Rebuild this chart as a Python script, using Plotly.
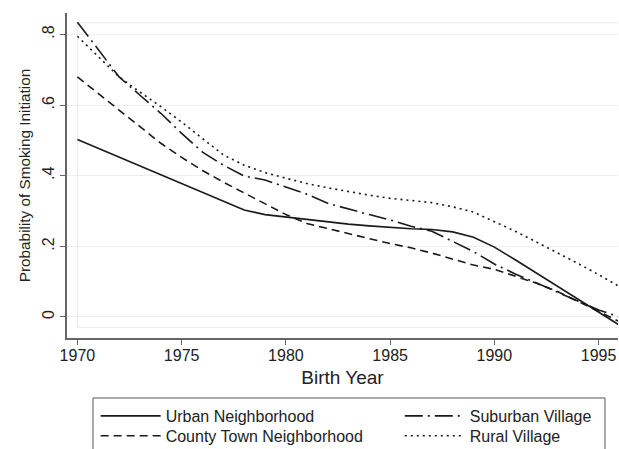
import plotly.graph_objects as go

years = list(range(1970, 1997))
urban = [.503, .478, .452, .427, .402, .378, .352, .328, .303, .290, .283, .276, .269, .263,
         .258, .253, .250, .248, .241, .226, .198, .162, .125, .088, .052, .015, -.023]
suburban = [.835, .757, .680, .628, .577, .520, .467, .430, .399, .388, .368, .348, .322, .305,
            .290, .275, .257, .243, .215, .185, .150, .122, .097, .070, .045, .020, .000]
county = [.680, .633, .586, .539, .492, .452, .415, .382, .351, .320, .290, .265, .250, .235,
          .222, .208, .196, .181, .164, .147, .135, .116, .096, .073, .045, .015, -.013]
rural = [.795, .737, .680, .637, .596, .552, .505, .459, .430, .409, .393, .378, .366, .355,
         .345, .336, .330, .324, .312, .297, .270, .243, .213, .183, .152, .120, .086]

names = ["Urban Neighborhood", "County Town Neighborhood", "Suburban Village", "Rural Village"]
series = [urban, county, suburban, rural]
dashes = ["solid", "8px,5px", "18px,5px,2px,5px", "2px,4px"]
legend_ids = ["legend", "legend2", "legend3", "legend4"]

x_ticks = [1970, 1975, 1980, 1985, 1990, 1995]
y_ticks = [0, 0.2, 0.4, 0.6, 0.8]
y_tick_labels = ["0", ".2", ".4", ".6", ".8"]

fig = go.Figure()
for nm, ys, dsh, lg in zip(names, series, dashes, legend_ids):
    fig.add_trace(go.Scatter(x=years, y=ys, mode="lines", name=nm, legend=lg,
                             line=dict(color="#1a1a1a", width=1.6, dash=dsh)))

# faint inner plot-region frame (Stata style)
fig.add_shape(type="rect", xref="x", yref="y", x0=1970, x1=1996, y0=-0.03, y1=0.833,
              line=dict(color="#ececec", width=1), layer="below")
# legend frame enclosing the legend entries
fig.add_shape(type="rect", xref="paper", yref="paper", x0=0.0472, x1=0.9764,
              y0=-0.1846, y1=-0.45, line=dict(color="#555", width=1))

font = "Liberation Sans, Arial, sans-serif"
leg_common = dict(orientation="v", xanchor="left", yanchor="top", borderwidth=0,
                  itemwidth=60, font=dict(size=16, color="#222"), bgcolor="rgba(0,0,0,0)")
col_x = [0.052, 0.052, 0.604, 0.604]
row_y = [-0.1877, -0.249, -0.1877, -0.249]
legend_layout = {lg: dict(x=cx, y=ry, **leg_common)
                 for lg, cx, ry in zip(legend_ids, col_x, row_y)}

fig.update_layout(
    width=619, height=449,
    margin=dict(l=67, r=1, t=13, b=111, autoexpand=False),
    plot_bgcolor="white", paper_bgcolor="white",
    font=dict(family=font, size=16, color="#222"),
    showlegend=True,
    **legend_layout,
    xaxis=dict(range=[1969.5, 1995.93], tickvals=x_ticks, ticks="outside", ticklen=5,
               tickcolor="#666", showline=True, linecolor="#666", linewidth=1.5,
               showgrid=False, zeroline=False, ticklabelstandoff=-3,
               title=dict(text="Birth Year", standoff=8)),
    yaxis=dict(range=[-0.0595, 0.861], tickvals=y_ticks, ticktext=y_tick_labels,
               tickangle=-90, ticks="outside", ticklen=5, tickcolor="#666",
               showline=True, linecolor="#666", linewidth=1.5, ticklabelstandoff=0,
               showgrid=True, gridcolor="#eeeeee", gridwidth=1, zeroline=False,
               title=dict(text="Probability of Smoking Initiation", standoff=5,
                          font=dict(size=15.3))),
)

fig.write_html("out.html", config={"displayModeBar": False},
               post_script="document.body.style.margin='0px';")
